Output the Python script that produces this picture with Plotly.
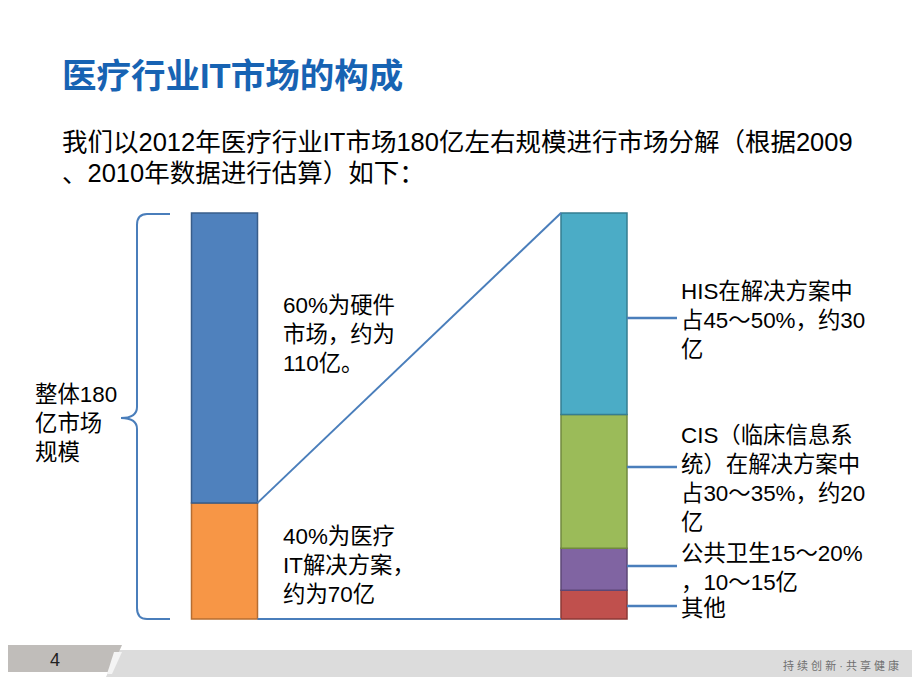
import numpy as np
import plotly.graph_objects as go

# ---------------- data ----------------
left_labels = ["IT解决方案", "硬件"]
left_values = [28.6, 71.4]            # share of left bar (bottom -> top)
left_colors = ["#f79646", "#4f81bd"]
left_edges = ["#b66d31", "#385d8a"]

right_labels = ["其他", "公共卫生", "CIS", "HIS"]
right_values = [7.1, 10.3, 33.0, 49.6]   # share of right bar (bottom -> top)
right_colors = ["#c0504d", "#8064a2", "#9bbb59", "#4bacc6"]
right_edges = ["#8c3836", "#5c4776", "#71893f", "#357d91"]

title_text = "医疗行业IT市场的构成"
subtitle_lines = ["我们以2012年医疗行业IT市场180亿左右规模进行市场分解（根据2009",
                  "、2010年数据进行估算）如下："]
total_text = "整体180<br>亿市场<br>规模"
hw_text = "60%为硬件<br>市场，约为<br>110亿。"
sol_text = "40%为医疗<br>IT解决方案，<br>约为70亿"
right_texts = ["其他",
               "公共卫生15～20%<br>，10～15亿",
               "CIS（临床信息系<br>统）在解决方案中<br>占30～35%，约20<br>亿",
               "HIS在解决方案中<br>占45～50%，约30<br>亿"]
footer_page = "4"
footer_slogan = "持 续 创 新 · 共 享 健 康"

# ---------------- layout geometry ----------------
W, H = 920, 690
OFF = 8                      # page body margin
BAR_TOP, BAR_BOT = 213, 619
SCALE = (BAR_BOT - BAR_TOP) / 100.0
LX, RX, BW = 224.5, 594.0, 66
FONT = "Liberation Sans, Arial, Noto Sans CJK SC, sans-serif"
LINE = "#4a7ebb"

fig = go.Figure()

def add_stack(xpos, values, colors, edges, names):
    bases = np.concatenate([[0], np.cumsum(values)[:-1]])
    for v, b, c, e, n in zip(values, bases, colors, edges, names):
        fig.add_trace(go.Bar(x=[xpos], y=[v], base=[b], width=BW, name=n,
                             marker=dict(color=c, line=dict(color=e, width=1.5)),
                             hoverinfo="skip", showlegend=False))

add_stack(LX, left_values, left_colors, left_edges, left_labels)
add_stack(RX, right_values, right_colors, right_edges, right_labels)

shapes = []
# connecting lines from left bar (solution part) to right bar
shapes.append(dict(type="line", xref="x", yref="y", x0=LX + BW / 2, x1=RX - BW / 2,
                   y0=left_values[0], y1=float(np.sum(right_values)),
                   line=dict(color=LINE, width=2)))
shapes.append(dict(type="line", xref="x", yref="y", x0=LX + BW / 2, x1=RX - BW / 2,
                   y0=0, y1=0, line=dict(color=LINE, width=2)))

# curly brace (pixel coords on y2)
brace = ("M170,214 L147,214 Q137,214 137,225 L137,407 Q137,418 121,418 "
         "Q137,418 137,429 L137,608 Q137,619 147,619 L170,619")
shapes.append(dict(type="path", xref="x", yref="y2", path=brace,
                   line=dict(color=LINE, width=2)))

# callout lines for right labels
callout_y = [606, 566, 467, 318]
for cy in callout_y:
    shapes.append(dict(type="line", xref="x", yref="y2", x0=RX + BW / 2, x1=677,
                       y0=cy, y1=cy, line=dict(color=LINE, width=2.5)))

# footer
shapes.append(dict(type="path", xref="x", yref="y2",
                   path="M118,650 L920,650 L920,677 L106,677 Z",
                   fillcolor="#dcdcdc", line=dict(width=0), layer="below"))
shapes.append(dict(type="path", xref="x", yref="y2",
                   path="M0,645 L122,645 L110,672 L0,672 Z",
                   fillcolor="#c0bdba", line=dict(width=0)))
shapes.append(dict(type="path", xref="x", yref="y2",
                   path="M114,652 L122,652 L112,674 L107,674 Z",
                   fillcolor="#f4f4f4", line=dict(width=0)))

ann = []
def txt(x, y, text, size=22.4, color="#000000", anchor="left", bold=False, ymid="middle"):
    ann.append(dict(x=x, y=y, xref="x", yref="y2", text=("<b>%s</b>" % text) if bold else text,
                    showarrow=False, xanchor=anchor, yanchor=ymid, align="left",
                    font=dict(family=FONT, size=size, color=color)))

txt(60, 76, title_text, size=34.5, color="#1763b3", bold=True)
txt(60, 142, subtitle_lines[0], size=25.5)
txt(60, 173, subtitle_lines[1], size=25.5)
txt(33, 423, total_text)
txt(281, 334, hw_text)
txt(281, 565, sol_text)
right_text_y = [608, 568, 479, 320]
for t, yy in zip(right_texts, right_text_y):
    txt(679, yy, t)
txt(55, 660, footer_page, size=18, color="#222222", anchor="center")
txt(901, 665, footer_slogan, size=11, color="#707070", anchor="right")

fig.update_layout(
    width=W - OFF, height=H - OFF, margin=dict(l=0, r=0, t=0, b=0),
    paper_bgcolor="white", plot_bgcolor="white",
    barmode="overlay", shapes=shapes, annotations=ann,
    xaxis=dict(range=[OFF, W], visible=False, fixedrange=True),
    yaxis=dict(range=[(BAR_BOT - H) / SCALE, (BAR_BOT - OFF) / SCALE], visible=False, fixedrange=True),
    yaxis2=dict(range=[H, OFF], visible=False, overlaying="y", anchor="x", fixedrange=True),
    showlegend=False,
)

fig.write_html("out.html")
